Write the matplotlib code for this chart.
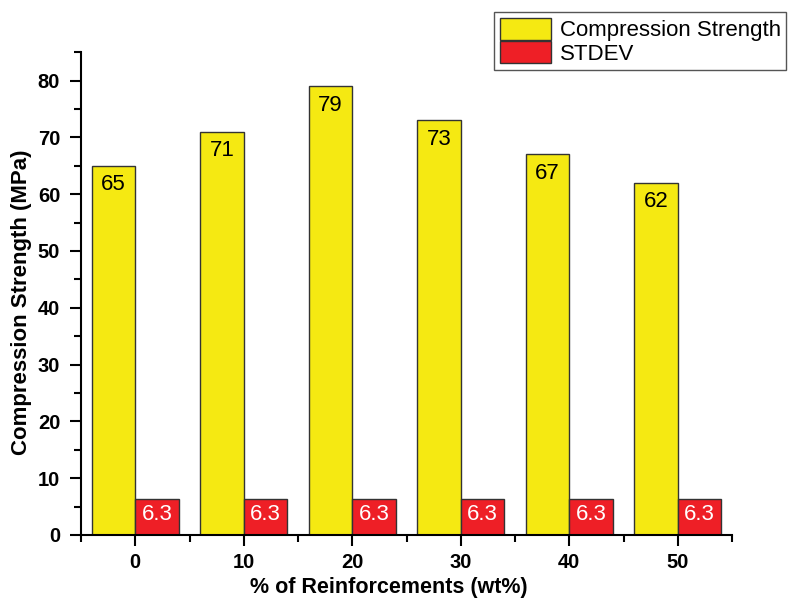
import matplotlib.pyplot as plt
import numpy as np

reinforcement = ["0", "10", "20", "30", "40", "50"]
strength = [65, 71, 79, 73, 67, 62]
stdev = [6.3, 6.3, 6.3, 6.3, 6.3, 6.3]

plt.rcParams['font.family'] = ['Liberation Sans', 'DejaVu Sans']

fig = plt.figure(figsize=(7.94, 5.99), dpi=100)
ax = fig.add_axes([0.102, 0.107, 0.82, 0.806])

x = np.arange(len(reinforcement))
w = 0.4
b1 = ax.bar(x - w / 2, strength, w, color="#F5E912", edgecolor="#333333",
            linewidth=1, label="Compression Strength")
b2 = ax.bar(x + w / 2, stdev, w, color="#EE1F26", edgecolor="#333333",
            linewidth=1, label="STDEV")

for rect, v in zip(b1, strength):
    ax.annotate(str(v), (rect.get_x() + rect.get_width() / 2, v),
                xytext=(0, -6), textcoords="offset points",
                ha="center", va="top", fontsize=16, color="black")
for rect, v in zip(b2, stdev):
    ax.text(rect.get_x() + rect.get_width() / 2, v / 2 + 0.4, str(v),
            ha="center", va="center", fontsize=16, color="white")

ax.set_xlim(-0.5, 5.5)
ax.set_ylim(0, 85)
ax.set_xticks(x)
ax.set_xticklabels(reinforcement)
ax.set_xticks(np.arange(-0.5, 5.6, 1), minor=True)
ax.set_yticks(np.arange(0, 81, 10))
ax.set_yticks(np.arange(5, 86, 10), minor=True)

for s in ["top", "right"]:
    ax.spines[s].set_visible(False)
for s in ["left", "bottom"]:
    ax.spines[s].set_linewidth(1.5)

ax.tick_params(which="major", length=8, width=1.5, labelsize=14.5)
ax.tick_params(axis="x", which="major", pad=5)
ax.tick_params(axis="y", which="major", pad=7)
ax.tick_params(which="minor", length=5, width=1.5)
for lbl in ax.get_xticklabels() + ax.get_yticklabels():
    lbl.set_fontweight("bold")

fig.text(22 / 794, 1 - 302 / 599, "Compression Strength (MPa)", rotation=90,
         ha="center", va="center", fontsize=16, fontweight="bold")
fig.text(389 / 794, 1 - 587 / 599, "% of Reinforcements (wt%)",
         ha="center", va="center", fontsize=15.5, fontweight="bold")

leg = fig.legend(loc="upper left", bbox_to_anchor=(494 / 794, 1 - 12 / 599),
                 borderaxespad=0, fontsize=16, handlelength=2.3, handleheight=1.15,
                 labelspacing=0.0, borderpad=0.25, handletextpad=0.4,
                 fancybox=False, framealpha=1)
leg.get_frame().set_edgecolor("#555555")
leg.get_frame().set_linewidth(1)

fig.savefig("out.png", dpi=100)
